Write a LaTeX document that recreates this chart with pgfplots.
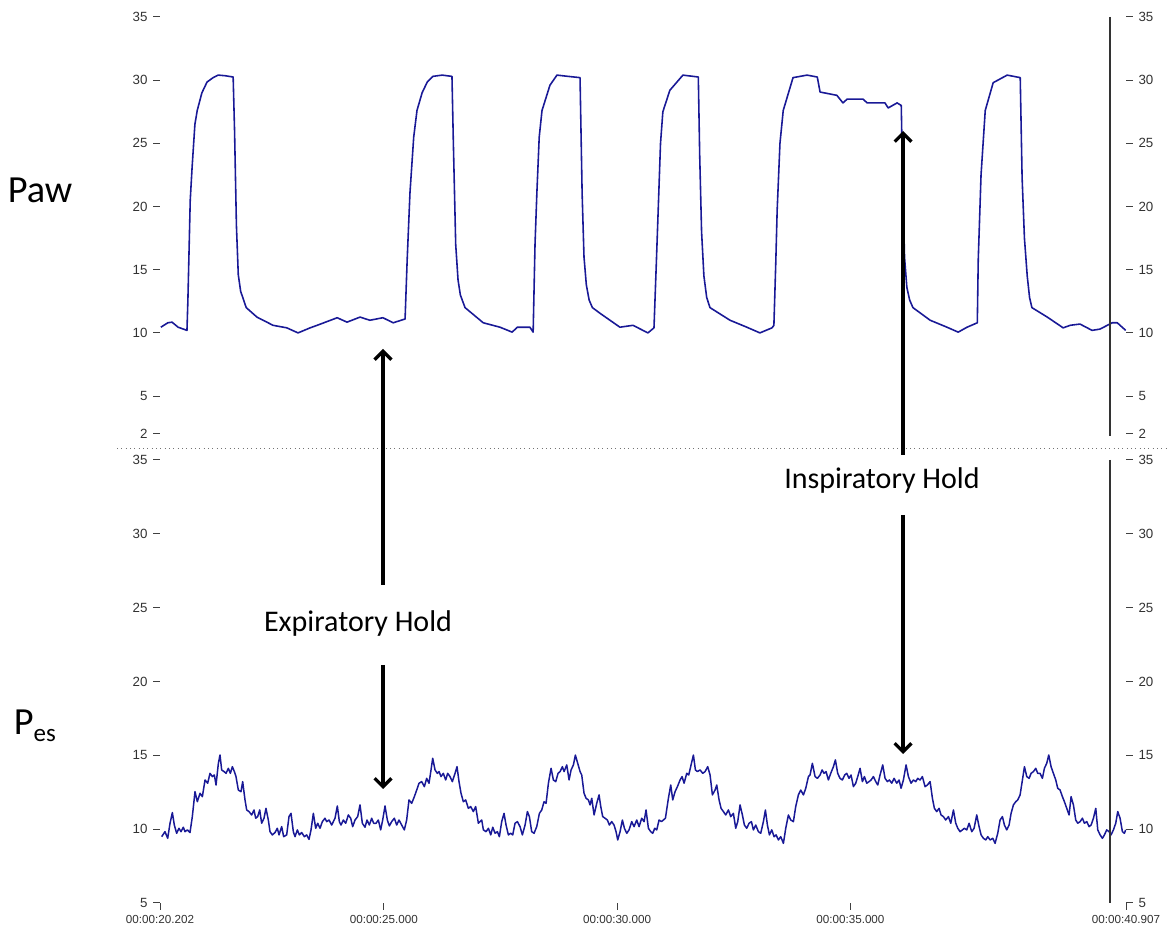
\documentclass[border=0pt]{standalone}
\usepackage{fontspec}
\setmainfont{Carlito}
\newfontfamily\arialf{Liberation Sans}
\usepackage{pgfplots}
\pgfplotsset{compat=1.18}
\usetikzlibrary{arrows.meta}
\definecolor{trace}{RGB}{25,25,150}
\definecolor{ticklab}{RGB}{50,50,50}

\pgfplotsset{
  basestyle/.style={
    scale only axis, width=579.6pt,
    xmin=20.202, xmax=40.907,
    axis line style={draw=none},
    tick align=outside, major tick length=4pt,
    tick style={black!75, line width=0.6pt},
    /pgf/number format/assume math mode=true,
    yticklabel style={font=\arialf\fontsize{8}{9}\selectfont, text=ticklab},
    xticklabel style={font=\arialf\fontsize{7}{8}\selectfont, text=ticklab},
    clip=true,
  },
  topstyle/.style={basestyle, height=250.2pt, ymin=2, ymax=35,
    ytick={2,5,10,15,20,25,30,35}, xtick=\empty,
    at={(96pt,298.2pt)}, anchor=south west},
  botstyle/.style={basestyle, height=265.8pt, ymin=5, ymax=35,
    ytick={5,10,15,20,25,30,35},
    at={(96pt,16.8pt)}, anchor=south west},
}

\begin{document}
\begin{tikzpicture}
\path[use as bounding box] (0,0) rectangle (702pt,558.6pt);

% ---------- top panel: Paw ----------
\begin{axis}[topstyle, ytick pos=left]
\addplot[trace, line width=0.95pt, line join=round] coordinates {
(20.22,10.45)(20.37,10.8)(20.46,10.85)(20.59,10.45)(20.78,10.2)(20.80,12.6)
(20.85,20.5)(20.89,23.1)(20.95,26.5)(21.00,27.6)(21.10,29.0)(21.21,29.85)(21.34,30.2)
(21.45,30.4)(21.60,30.35)(21.77,30.25)(21.80,26.0)(21.84,18.5)(21.88,14.6)(21.93,13.3)
(22.05,12.0)(22.28,11.25)(22.625,10.6)(22.92,10.4)(23.16,10.0)(23.20,10.06)
(23.42,10.4)(23.57,10.6)(24.00,11.2)(24.21,10.85)(24.49,11.25)(24.70,11.0)
(24.98,11.2)(25.20,10.8)(25.455,11.1)(25.50,15.8)(25.56,21.1)(25.64,25.5)(25.71,27.6)
(25.82,29.0)(25.93,29.85)(26.05,30.3)(26.25,30.4)(26.46,30.3)(26.49,25.0)
(26.54,17.0)(26.59,14.2)(26.64,13.0)(26.74,12.0)(27.13,10.8)(27.49,10.45)(27.75,10.06)(27.86,10.45)
(28.13,10.45)(28.20,10.06)(28.24,17.0)(28.28,21.1)(28.33,25.5)(28.39,27.6)(28.56,29.6)(28.71,30.4)
(28.95,30.3)(29.205,30.2)(29.25,21.0)(29.29,16.0)(29.34,13.8)(29.40,12.6)(29.47,12.0)(29.63,11.56)
(30.06,10.45)(30.34,10.6)(30.66,10.0)(30.79,10.4)(30.84,15.5)(30.88,19.7)(30.93,25.0)(30.98,27.5)
(31.13,29.2)(31.41,30.4)(31.74,30.25)(31.77,24.0)(31.81,18.0)(31.86,14.5)(31.92,12.8)(31.99,12.0)
(32.42,11.0)(32.78,10.45)(33.06,10.0)(33.32,10.4)(33.36,10.6)(33.40,15.5)(33.43,19.7)(33.49,25.0)
(33.56,27.6)(33.77,30.2)(34.07,30.4)(34.29,30.25)(34.35,29.06)(34.71,28.8)
(34.84,28.2)(34.93,28.5)(35.27,28.5)(35.36,28.2)(35.74,28.2)(35.81,27.8)
(36.00,28.2)(36.09,28.0)(36.12,22.0)(36.16,16.0)(36.21,13.6)(36.27,12.6)(36.34,12.0)(36.71,11.0)
(37.07,10.45)(37.31,10.06)(37.50,10.45)(37.72,10.8)(37.74,15.8)(37.80,22.5)(37.89,27.6)
(38.06,29.8)(38.36,30.4)(38.64,30.2)(38.68,22.3)(38.73,17.5)(38.79,14.5)(38.84,12.8)(38.89,12.0)
(39.22,11.25)(39.56,10.4)(39.71,10.6)(39.92,10.7)(40.18,10.2)(40.35,10.3)
(40.61,10.8)(40.72,10.8)(40.90,10.2)
};
\end{axis}
\begin{axis}[topstyle, ytick pos=right, yticklabel pos=right]
\addplot[draw=none] coordinates {(21,10)};
\end{axis}

% ---------- bottom panel: Pes ----------
\begin{axis}[botstyle, ytick pos=left, xtick pos=bottom,
  xtick={20.202,25,30,35,40.907},
  xticklabels={00:00:20.202,00:00:25.000,00:00:30.000,00:00:35.000,00:00:40.907}]
\addplot[trace, line width=0.9pt, line join=round] coordinates {
(20.238,9.49)(20.309,9.83)(20.367,9.38)(20.417,10.40)(20.467,11.12)(20.509,10.28)
(20.559,9.72)(20.609,10.06)(20.652,9.83)(20.702,10.13)(20.738,9.83)(20.788,9.95)
(20.845,9.77)(20.895,10.85)(20.952,12.54)(21.002,11.86)(21.060,12.43)(21.110,12.20)
(21.167,13.33)(21.224,13.11)(21.274,13.78)(21.324,13.56)(21.367,13.67)(21.403,12.99)
(21.453,14.46)(21.488,15.02)(21.524,14.01)(21.574,13.90)(21.617,13.78)(21.667,14.12)
(21.710,13.78)(21.753,14.23)(21.796,13.90)(21.831,13.56)(21.881,12.65)(21.938,12.54)
(21.974,13.22)(22.024,11.98)(22.060,11.30)(22.110,11.19)(22.167,10.96)(22.217,11.30)
(22.253,10.74)(22.296,10.85)(22.339,11.30)(22.381,10.40)(22.431,10.74)(22.474,11.41)
(22.524,10.62)(22.560,9.83)(22.610,9.61)(22.667,9.77)(22.717,10.06)(22.753,9.61)
(22.810,10.17)(22.853,9.49)(22.917,9.61)(22.967,10.85)(23.010,11.07)(23.060,9.83)
(23.096,9.49)(23.146,9.95)(23.189,9.61)(23.239,9.77)(23.296,9.49)(23.346,9.61)
(23.396,9.31)(23.439,9.95)(23.489,11.07)(23.539,10.06)(23.582,10.40)(23.632,10.06)
(23.682,10.51)(23.739,10.74)(23.775,10.51)(23.825,10.62)(23.882,10.28)(23.953,10.74)
(24.003,11.57)(24.046,10.51)(24.082,10.28)(24.132,10.62)(24.182,10.40)(24.239,10.96)
(24.289,10.74)(24.332,10.17)(24.382,10.62)(24.439,10.85)(24.489,11.64)(24.539,10.40)
(24.596,10.13)(24.639,10.62)(24.689,10.28)(24.739,10.74)(24.782,10.40)(24.832,10.40)
(24.882,10.62)(24.932,9.95)(24.975,10.62)(25.025,11.57)(25.075,10.62)(25.118,10.22)
(25.168,10.51)(25.225,10.74)(25.275,10.28)(25.325,10.62)(25.382,10.28)(25.439,9.95)
(25.489,10.62)(25.539,11.98)(25.597,11.75)(25.654,12.20)(25.704,12.65)(25.754,13.11)
(25.811,13.22)(25.868,12.88)(25.918,13.44)(25.968,13.11)(26.011,14.01)(26.047,14.80)
(26.097,14.01)(26.147,13.78)(26.183,13.90)(26.225,13.56)(26.275,13.78)(26.325,13.33)
(26.368,13.78)(26.418,13.56)(26.468,13.22)(26.526,13.78)(26.568,14.23)(26.611,13.22)
(26.654,12.43)(26.704,11.86)(26.754,11.98)(26.811,11.41)(26.861,11.53)(26.918,11.19)
(26.968,11.53)(27.026,10.40)(27.098,10.62)(27.133,9.95)(27.191,9.83)(27.241,10.06)
(27.291,9.61)(27.334,10.13)(27.384,9.72)(27.434,9.83)(27.476,9.49)(27.526,10.51)
(27.576,11.07)(27.619,10.28)(27.669,9.61)(27.719,9.72)(27.762,9.61)(27.812,10.40)
(27.862,10.51)(27.919,10.17)(27.969,9.61)(28.027,10.28)(28.077,11.19)(28.119,10.85)
(28.169,9.83)(28.219,9.72)(28.277,10.17)(28.334,11.07)(28.384,11.30)(28.434,11.86)
(28.477,11.75)(28.527,13.11)(28.584,14.12)(28.634,13.33)(28.684,13.22)(28.734,13.78)
(28.777,13.90)(28.827,14.23)(28.863,13.90)(28.920,14.35)(28.970,13.33)(29.013,14.01)
(29.063,14.35)(29.105,15.02)(29.155,14.46)(29.206,13.90)(29.241,13.67)(29.291,12.43)
(29.334,12.09)(29.384,11.98)(29.420,11.64)(29.456,12.09)(29.506,10.96)(29.563,11.75)
(29.613,12.32)(29.649,11.53)(29.691,10.85)(29.741,10.74)(29.791,10.62)(29.834,10.28)
(29.884,10.51)(29.934,10.28)(29.977,9.83)(30.013,9.27)(30.063,9.83)(30.113,10.62)
(30.156,10.06)(30.206,9.72)(30.256,9.95)(30.313,10.51)(30.363,10.17)(30.420,10.62)
(30.470,10.17)(30.527,10.74)(30.577,10.51)(30.620,11.30)(30.670,10.06)(30.720,9.83)
(30.763,9.72)(30.806,10.06)(30.849,9.95)(30.899,10.62)(30.949,10.51)(30.992,10.62)
(31.035,10.74)(31.099,12.09)(31.149,12.99)(31.192,11.98)(31.242,12.54)(31.292,12.88)
(31.349,13.33)(31.392,13.56)(31.435,13.11)(31.492,13.78)(31.535,13.67)(31.585,14.35)
(31.635,15.02)(31.678,14.01)(31.721,13.90)(31.778,14.01)(31.835,13.78)(31.885,13.90)
(31.942,14.23)(31.992,13.67)(32.042,12.32)(32.099,12.65)(32.135,12.99)(32.185,11.98)
(32.228,11.41)(32.278,11.19)(32.328,10.96)(32.385,11.30)(32.435,10.85)(32.492,11.07)
(32.542,10.06)(32.585,10.51)(32.635,11.64)(32.685,10.96)(32.728,10.28)(32.778,10.06)
(32.828,10.40)(32.878,10.51)(32.921,9.95)(32.971,10.28)(33.028,9.83)(33.078,9.72)
(33.135,10.51)(33.178,11.30)(33.221,10.28)(33.264,9.61)(33.314,9.95)(33.364,9.49)
(33.407,9.61)(33.457,9.27)(33.507,9.49)(33.564,9.04)(33.614,10.06)(33.671,10.96)
(33.721,10.62)(33.778,10.51)(33.828,11.53)(33.885,12.32)(33.935,12.65)(33.993,12.32)
(34.043,12.77)(34.100,13.56)(34.135,13.67)(34.185,14.46)(34.243,13.56)(34.293,13.44)
(34.350,13.67)(34.393,14.01)(34.435,13.78)(34.478,13.90)(34.528,13.33)(34.578,13.78)
(34.636,14.23)(34.678,14.69)(34.728,13.78)(34.778,13.44)(34.828,13.33)(34.878,13.67)
(34.921,13.78)(34.971,13.44)(35.014,13.67)(35.064,12.88)(35.114,13.11)(35.157,13.56)
(35.207,14.12)(35.257,13.22)(35.300,13.56)(35.350,13.11)(35.400,13.22)(35.443,13.33)
(35.493,13.56)(35.543,13.22)(35.586,12.99)(35.636,13.67)(35.693,14.35)(35.743,13.44)
(35.793,13.22)(35.836,13.33)(35.886,13.11)(35.936,13.44)(35.993,13.11)(36.043,13.33)
(36.086,12.77)(36.136,13.33)(36.193,14.35)(36.243,13.56)(36.300,13.11)(36.350,13.33)
(36.400,13.22)(36.443,13.44)(36.493,13.33)(36.543,13.56)(36.600,12.88)(36.650,12.99)
(36.708,13.22)(36.758,12.09)(36.800,11.41)(36.850,11.19)(36.900,11.41)(36.943,10.96)
(36.993,10.85)(37.043,10.62)(37.101,10.85)(37.151,10.40)(37.208,11.30)(37.258,10.40)
(37.301,10.06)(37.351,9.83)(37.401,9.95)(37.443,10.06)(37.494,9.95)(37.544,10.40)
(37.601,9.83)(37.651,10.06)(37.708,10.96)(37.758,10.17)(37.801,9.61)(37.851,9.38)
(37.901,9.27)(37.944,9.49)(37.994,9.27)(38.051,9.38)(38.101,9.04)(38.158,9.72)
(38.208,10.62)(38.258,10.85)(38.301,10.28)(38.351,9.95)(38.401,10.28)(38.444,11.07)
(38.494,11.64)(38.544,11.86)(38.587,11.98)(38.637,12.32)(38.687,13.33)(38.730,14.23)
(38.780,13.56)(38.830,13.44)(38.873,13.78)(38.923,13.90)(38.973,14.12)(39.015,13.78)
(39.065,13.78)(39.115,13.44)(39.158,14.12)(39.208,14.46)(39.251,15.02)(39.301,14.23)
(39.351,13.78)(39.401,13.33)(39.444,12.77)(39.494,12.65)(39.544,12.20)(39.587,11.86)
(39.637,11.41)(39.687,10.96)(39.730,12.20)(39.780,11.64)(39.830,10.62)(39.873,10.40)
(39.923,10.51)(39.973,10.74)(40.016,10.40)(40.066,10.51)(40.116,10.17)(40.159,10.28)
(40.209,10.74)(40.259,11.41)(40.302,9.95)(40.352,9.61)(40.402,9.38)(40.444,9.61)
(40.494,9.95)(40.544,9.83)(40.587,9.61)(40.637,9.95)(40.687,10.40)(40.730,11.19)
(40.780,10.74)(40.830,9.83)(40.873,9.72)(40.900,9.95)
};
\end{axis}
\begin{axis}[botstyle, ytick pos=right, yticklabel pos=right, xtick=\empty]
\addplot[draw=none] coordinates {(21,10)};
\end{axis}

% ---------- annotations in pixel coordinates ----------
\begin{scope}[x=0.6pt, y=-0.6pt, shift={(0pt,558.6pt)}]
  % separator
  \draw[black!55, line width=0.6pt, dotted] (117,449) -- (1170,449);
  % cursor line
  \draw[black!80, line width=0.9pt] (1110,17) -- (1110,436);
  \draw[black!80, line width=0.9pt] (1110,460) -- (1110,903);
  % arrows
  \draw[line width=2pt, -{Straight Barb[length=5pt,width=10pt]}] (383,585) -- (383,349);
  \draw[line width=2pt, -{Straight Barb[length=5pt,width=10pt]}] (383,665) -- (383,789);
  \draw[line width=2pt, -{Straight Barb[length=5pt,width=10pt]}] (903,455) -- (903,131);
  \draw[line width=2pt, -{Straight Barb[length=5pt,width=10pt]}] (903,515) -- (903,754);
  % labels
  \node[font=\fontsize{18}{20}\selectfont] at (358,624) {Expiratory Hold};
  \node[font=\fontsize{18}{20}\selectfont] at (882,481) {Inspiratory Hold};
  \node[font=\fontsize{23}{26}\selectfont] at (40,190) {Paw};
  \node[font=\fontsize{23}{26}\selectfont, anchor=base west] at (8,735) {P\raisebox{-0.35ex}{\fontsize{15}{17}\selectfont es}};
\end{scope}
\end{tikzpicture}
\end{document}
